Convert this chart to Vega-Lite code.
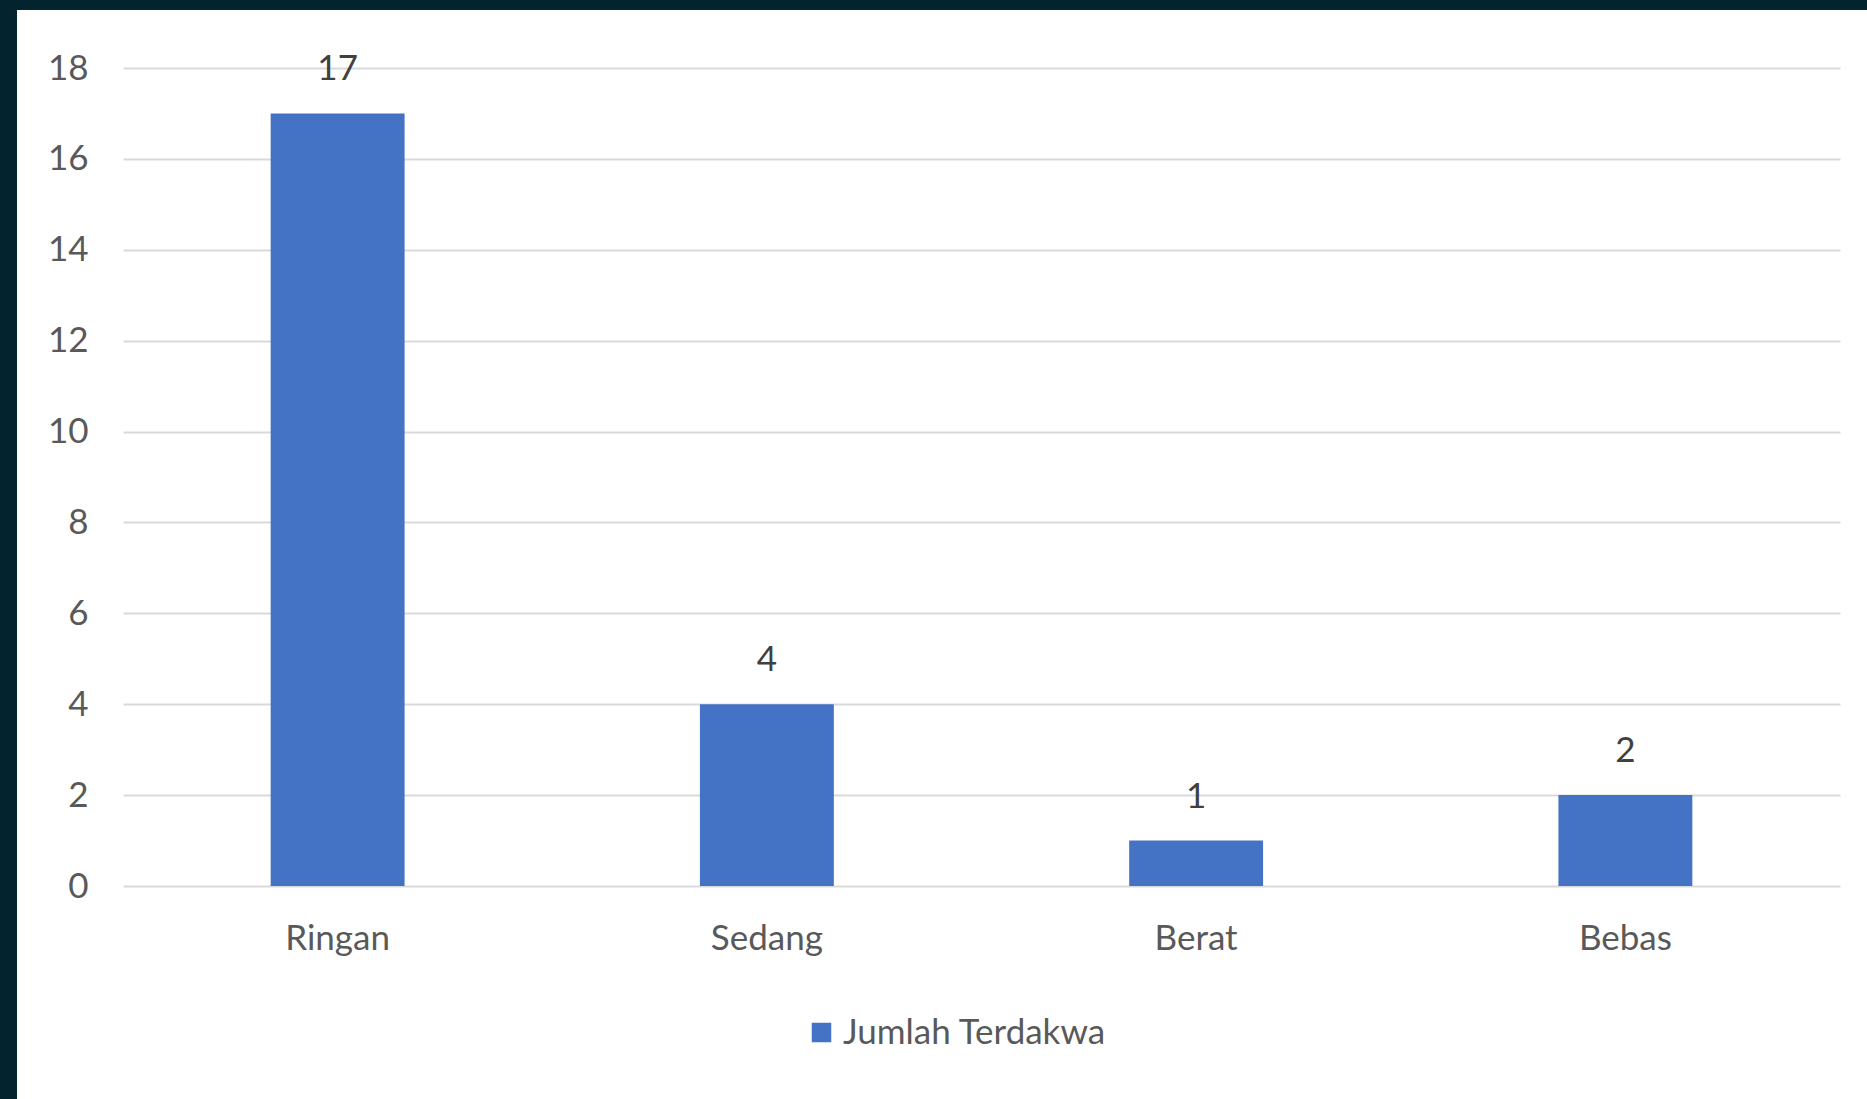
{
  "$schema": "https://vega.github.io/schema/vega-lite/v6.json",
  "width": 1850,
  "height": 1089,
  "autosize": {"type": "none"},
  "padding": {"left": 17, "top": 10, "right": 0, "bottom": 0},
  "background": "#03232e",
  "config": {
    "view": {"fill": "#ffffff", "stroke": null},
    "font": "Lato"
  },
  "data": {
    "values": [
      {"kategori": "Ringan", "jumlah": 17, "seri": "Jumlah Terdakwa"},
      {"kategori": "Sedang", "jumlah": 4, "seri": "Jumlah Terdakwa"},
      {"kategori": "Berat", "jumlah": 1, "seri": "Jumlah Terdakwa"},
      {"kategori": "Bebas", "jumlah": 2, "seri": "Jumlah Terdakwa"}
    ]
  },
  "encoding": {
    "x": {
      "field": "kategori",
      "type": "nominal",
      "sort": null,
      "scale": {"range": [106, 1823], "paddingInner": 0.688, "paddingOuter": 0.344},
      "axis": {
        "title": null,
        "labelAngle": 0,
        "offset": -213,
        "domain": false,
        "ticks": false,
        "tickSize": 0,
        "grid": false,
        "labelPadding": 35,
        "labelFontSize": 35,
        "labelColor": "#595959",
        "labelFont": "Lato"
      }
    },
    "y": {
      "field": "jumlah",
      "type": "quantitative",
      "scale": {"domain": [0, 18], "range": [876, 58], "nice": false, "zero": true},
      "axis": {
        "title": null,
        "values": [0, 2, 4, 6, 8, 10, 12, 14, 16, 18],
        "offset": -106,
        "domain": false,
        "ticks": false,
        "tickSize": 0,
        "labelPadding": 35,
        "labelFontSize": 35,
        "labelColor": "#595959",
        "labelFont": "Lato",
        "grid": true,
        "gridColor": "#d9d9d9",
        "gridWidth": 2
      }
    }
  },
  "layer": [
    {
      "mark": {"type": "bar"},
      "encoding": {
        "color": {
          "field": "seri",
          "type": "nominal",
          "scale": {"range": ["#4472c4"]},
          "legend": {
            "title": null,
            "orient": "none",
            "legendX": 787,
            "legendY": 1005,
            "symbolType": "square",
            "symbolSize": 380,
            "symbolStrokeWidth": 0,
            "labelFontSize": 35,
            "labelColor": "#595959",
            "labelFont": "Lato",
            "labelOffset": 4,
            "labelLimit": 0
          }
        }
      }
    },
    {
      "mark": {"type": "text", "baseline": "alphabetic", "dy": -33, "fontSize": 35, "color": "#404040", "font": "Lato"},
      "encoding": {
        "text": {"field": "jumlah", "type": "quantitative"}
      }
    }
  ]
}
